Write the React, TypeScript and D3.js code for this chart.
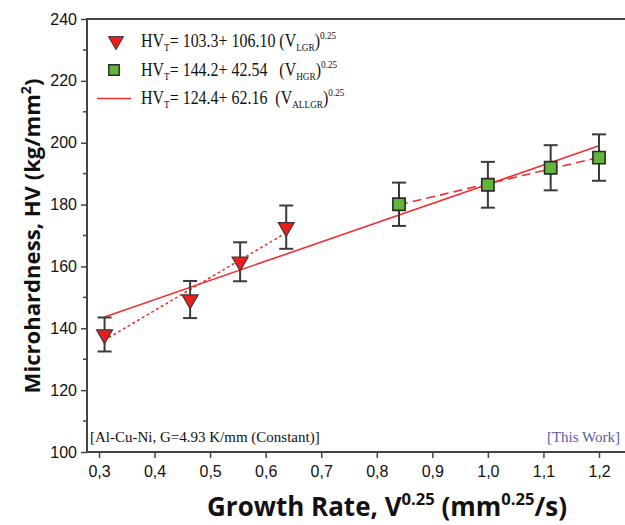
import React, { useRef, useEffect } from "react";
import * as d3 from "d3";

// low growth rate series (triangles)
const lgrX = [0.31, 0.464, 0.554, 0.637];
const lgrY = [138, 149.3, 161.5, 172.7];
const lgrErr = [5.5, 6, 6.3, 7];
// high growth rate series (squares)
const hgrX = [0.84, 1.0, 1.113, 1.2];
const hgrY = [180.1, 186.4, 191.9, 195.2];
const hgrErr = [7, 7.4, 7.3, 7.5];
// fit coefficients from the legend: HV = a + b * V^0.25
const fitLGR = [103.3, 106.1];
const fitHGR = [144.2, 42.54];
const fitALL = [124.4, 62.16];
const xTicks = [0.3, 0.4, 0.5, 0.6, 0.7, 0.8, 0.9, 1.0, 1.1, 1.2];
const yTicks = [100, 120, 140, 160, 180, 200, 220, 240];
const yMinor = [110, 130, 150, 170, 190, 210, 230];

const App = () => {
  const svgRef = useRef<SVGSVGElement>(null);

  useEffect(() => {
    const svg = d3.select(svgRef.current);
    svg.selectAll("*").remove();

    const x = d3.scaleLinear().domain([0.3, 1.2]).range([99, 599]);
    const y = d3.scaleLinear().domain([100, 240]).range([452, 19]);
    const axisColor = "#444";
    const left = 87;

    // frame (right side is cut off)
    svg
      .append("rect")
      .attr("x", left)
      .attr("y", y(240))
      .attr("width", 700)
      .attr("height", y(100) - y(240))
      .attr("fill", "none")
      .attr("stroke", axisColor)
      .attr("stroke-width", 2);

    // y axis
    const yAxis = svg
      .append("g")
      .attr("transform", `translate(${left},0)`)
      .call(
        d3
          .axisLeft(y)
          .tickValues(yTicks)
          .tickSize(6)
          .tickPadding(4)
          .tickFormat(d3.format("d"))
      );
    yAxis.select(".domain").remove();
    yAxis.selectAll("line").attr("stroke", axisColor).attr("stroke-width", 1.5);
    yAxis
      .selectAll("text")
      .attr("font-family", "Liberation Sans, Arial, sans-serif")
      .attr("font-size", 16)
      .attr("fill", "#111");
    svg
      .append("g")
      .selectAll("line")
      .data(yMinor)
      .enter()
      .append("line")
      .attr("x1", left - 4)
      .attr("x2", left)
      .attr("y1", (d) => y(d))
      .attr("y2", (d) => y(d))
      .attr("stroke", axisColor)
      .attr("stroke-width", 1.5);

    // x axis
    const xAxis = svg
      .append("g")
      .attr("transform", `translate(0,${y(100)})`)
      .call(
        d3
          .axisBottom(x)
          .tickValues(xTicks)
          .tickSize(6)
          .tickPadding(8)
          .tickFormat((d) => d3.format(".1f")(d as number).replace(".", ","))
      );
    xAxis.select(".domain").remove();
    xAxis.selectAll("line").attr("stroke", axisColor).attr("stroke-width", 1.5);
    xAxis
      .selectAll("text")
      .attr("font-family", "Liberation Sans, Arial, sans-serif")
      .attr("font-size", 16)
      .attr("fill", "#111");

    // axis titles, sized so they span the same length as in the picture
    const title = (
      transform: string,
      parts: [string, boolean][],
      target: number
    ) => {
      const build = (s: number) => {
        const t = svg
          .append("text")
          .attr("transform", transform)
          .attr("text-anchor", "middle")
          .attr("font-family", "Open Sans, DejaVu Sans, sans-serif")
          .attr("font-weight", "bold")
          .attr("font-size", s)
          .attr("fill", "#111");
        let up = false;
        parts.forEach(([txt, sup]) => {
          const sp = t.append("tspan").text(txt);
          if (sup && !up) sp.attr("dy", -0.42 * s);
          if (!sup && up) sp.attr("dy", 0.42 * s);
          if (sup) sp.attr("font-size", 0.64 * s);
          up = sup;
        });
        return t;
      };
      let t = build(20);
      const w = (t.node() as SVGTextElement).getBBox().width;
      t.remove();
      t = build((20 * target) / w);
    };
    title(
      "translate(387,516)",
      [
        ["Growth Rate, V", false],
        ["0.25", true],
        [" (mm", false],
        ["0.25", true],
        ["/s)", false],
      ],
      360
    );
    title(
      "translate(40,236) rotate(-90)",
      [
        ["Microhardness, HV (kg/mm", false],
        ["2", true],
        [")", false],
      ],
      315
    );

    // fit lines
    const fitLine = (coef: number[], x0: number, x1: number) =>
      d3.line<number>()
        .x((d) => x(d))
        .y((d) => y(coef[0] + coef[1] * d))([x0, x1]);

    svg
      .append("path")
      .attr("d", fitLine(fitLGR, lgrX[0], lgrX[lgrX.length - 1]))
      .attr("stroke", "#f03030")
      .attr("stroke-width", 1.6)
      .attr("stroke-dasharray", "1.5,4")
      .attr("stroke-linecap", "round")
      .attr("fill", "none");
    svg
      .append("path")
      .attr("d", fitLine(fitHGR, hgrX[0], hgrX[hgrX.length - 1]))
      .attr("stroke", "#f03030")
      .attr("stroke-width", 1.6)
      .attr("stroke-dasharray", "9,5")
      .attr("fill", "none");
    svg
      .append("path")
      .attr("d", fitLine(fitALL, lgrX[0], hgrX[hgrX.length - 1]))
      .attr("stroke", "#f03030")
      .attr("stroke-width", 1.6)
      .attr("fill", "none");

    // error bars
    const drawErr = (xs: number[], ys: number[], es: number[]) => {
      const g = svg.append("g").attr("stroke", "#3a3a3a").attr("stroke-width", 2);
      xs.forEach((xv, i) => {
        const cx = x(xv);
        const top = y(ys[i] + es[i]);
        const bot = y(ys[i] - es[i]);
        g.append("line").attr("x1", cx).attr("x2", cx).attr("y1", top).attr("y2", bot);
        g.append("line").attr("x1", cx - 7).attr("x2", cx + 7).attr("y1", top).attr("y2", top);
        g.append("line").attr("x1", cx - 7).attr("x2", cx + 7).attr("y1", bot).attr("y2", bot);
      });
    };
    drawErr(lgrX, lgrY, lgrErr);
    drawErr(hgrX, hgrY, hgrErr);

    const tri = d3.symbol().type(d3.symbolTriangle).size(110)();
    const sq = d3.symbol().type(d3.symbolSquare).size(150)();

    svg
      .append("g")
      .selectAll("path")
      .data(lgrX)
      .enter()
      .append("path")
      .attr("d", tri)
      .attr("transform", (d, i) => `translate(${x(d)},${y(lgrY[i])}) rotate(180)`)
      .attr("fill", "#ee1c1c")
      .attr("stroke", "#3a3a3a")
      .attr("stroke-width", 1.2);

    svg
      .append("g")
      .selectAll("path")
      .data(hgrX)
      .enter()
      .append("path")
      .attr("d", sq)
      .attr("transform", (d, i) => `translate(${x(d)},${y(hgrY[i])})`)
      .attr("fill", "#62b43a")
      .attr("stroke", "#2a2a2a")
      .attr("stroke-width", 1.6);

    // legend
    const lg = svg.append("g").attr("font-family", "Liberation Serif, Times New Roman, serif").attr("fill", "#111");
    lg.append("path")
      .attr("d", d3.symbol().type(d3.symbolTriangle).size(100)())
      .attr("transform", "translate(116,41) rotate(180)")
      .attr("fill", "#ee1c1c")
      .attr("stroke", "#3a3a3a")
      .attr("stroke-width", 1);
    lg.append("path")
      .attr("d", d3.symbol().type(d3.symbolSquare).size(110)())
      .attr("transform", "translate(114,70)")
      .attr("fill", "#62b43a")
      .attr("stroke", "#2a2a2a")
      .attr("stroke-width", 1.4);
    lg.append("line")
      .attr("x1", 97)
      .attr("x2", 131)
      .attr("y1", 98.5)
      .attr("y2", 98.5)
      .attr("stroke", "#f03030")
      .attr("stroke-width", 1.6);

    const legendRows = [
      { y: 47, a: "= 103.3+ 106.10 (V", sub: "LGR" },
      { y: 76, a: "= 144.2+ 42.54   (V", sub: "HGR" },
      { y: 104, a: "= 124.4+ 62.16  (V", sub: "ALLGR" },
    ];
    legendRows.forEach((r) => {
      const t = lg
        .append("text")
        .attr("transform", `translate(141,${r.y}) scale(0.84,1)`)
        .attr("font-size", 19)
        .style("white-space", "pre");
      t.append("tspan").text("HV");
      t.append("tspan").attr("dy", 4).attr("font-size", 11).text("T");
      t.append("tspan").attr("dy", -4).text(r.a);
      t.append("tspan").attr("dy", 4).attr("font-size", 11).text(r.sub);
      t.append("tspan").attr("dy", -4).text(")");
      t.append("tspan").attr("dy", -8).attr("font-size", 11).text("0.25");
    });

    // annotations
    svg
      .append("text")
      .attr("x", 90)
      .attr("y", 442)
      .attr("font-family", "Liberation Serif, Times New Roman, serif")
      .attr("font-size", 15)
      .attr("fill", "#111")
      .text("[Al-Cu-Ni, G=4.93 K/mm (Constant)]");
    svg
      .append("text")
      .attr("x", 620)
      .attr("y", 442)
      .attr("text-anchor", "end")
      .attr("font-family", "Liberation Serif, Times New Roman, serif")
      .attr("font-size", 15)
      .attr("fill", "#5a5aa8")
      .text("[This Work]");
  }, []);

  return (
    <svg
      ref={svgRef}
      width={625}
      height={525}
      style={{ position: "absolute", left: 0, top: 0, background: "#fff" }}
    ></svg>
  );
};

export default App;
